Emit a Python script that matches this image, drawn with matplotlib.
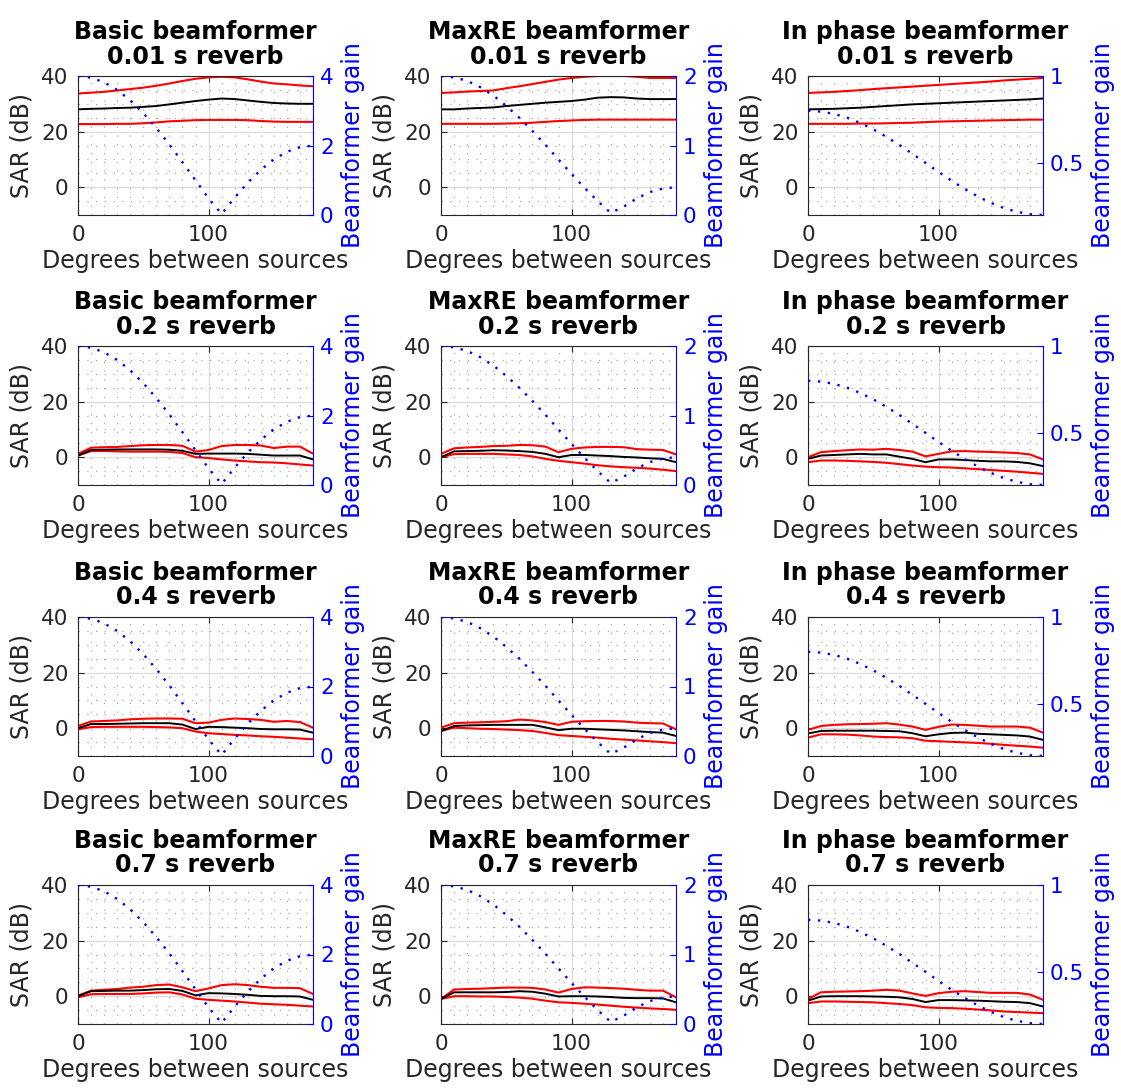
import numpy as np
import matplotlib
matplotlib.use("Agg")
import matplotlib.pyplot as plt
from matplotlib.ticker import MultipleLocator, FixedLocator, FuncFormatter

# angle between the two sources (degrees)
deg = [0, 10, 20, 30, 40, 50, 60, 70, 80, 90, 100, 110, 120, 130, 140, 150, 160, 170, 180]

beamformers = ["Basic", "MaxRE", "In phase"]
reverbs = ["0.01", "0.2", "0.4", "0.7"]

# beamformer gain (right axis)
gain_basic = [4.0, 3.95, 3.82, 3.6, 3.3, 2.93, 2.5, 2.03, 1.52, 1.0, 0.48, 0.03, 0.5, 0.93, 1.3, 1.6, 1.82, 1.95, 2.0]
gain_maxre = [2.0, 1.98, 1.93, 1.84, 1.72, 1.57, 1.40, 1.21, 1.01, 0.80, 0.59, 0.39, 0.20, 0.03, 0.12, 0.24, 0.33, 0.38, 0.40]
gain_inphase = [0.80, 0.795, 0.782, 0.76, 0.73, 0.693, 0.65, 0.603, 0.552, 0.50, 0.448, 0.397, 0.35, 0.307, 0.27, 0.24, 0.218, 0.205, 0.20]

# SAR (dB): upper / mean / lower, per beamformer and reverb time
basic_001_hi = [33.7, 34.0, 34.3, 34.8, 35.3, 35.8, 36.5, 37.3, 38.2, 39.0, 39.5, 39.7, 39.5, 38.8, 38.0, 37.3, 37.0, 36.6, 36.3]
basic_001_mid = [28.0, 28.2, 28.3, 28.5, 28.6, 28.9, 29.2, 29.8, 30.4, 31.0, 31.5, 31.9, 31.7, 31.2, 30.7, 30.3, 30.1, 30.0, 30.0]
basic_001_lo = [22.7, 22.7, 22.7, 22.8, 22.8, 23.0, 23.3, 23.7, 23.9, 24.1, 24.2, 24.2, 24.2, 24.1, 23.8, 23.6, 23.5, 23.5, 23.5]

maxre_001_hi = [33.9, 34.1, 34.4, 34.6, 34.8, 35.6, 36.3, 37.1, 37.9, 38.7, 39.3, 39.7, 40.0, 40.0, 40.0, 39.7, 39.3, 39.3, 39.3]
maxre_001_mid = [28.0, 28.0, 28.3, 28.5, 28.7, 29.2, 29.6, 30.0, 30.4, 30.7, 31.0, 31.5, 32.2, 32.4, 32.3, 31.9, 31.7, 31.7, 31.7]
maxre_001_lo = [22.8, 22.8, 22.8, 22.8, 22.8, 22.9, 23.0, 23.2, 23.5, 23.8, 24.0, 24.2, 24.3, 24.3, 24.3, 24.3, 24.3, 24.3, 24.3]

inphase_001_hi = [33.9, 34.1, 34.3, 34.6, 34.9, 35.3, 35.6, 35.9, 36.2, 36.5, 36.8, 37.1, 37.4, 37.7, 38.0, 38.4, 38.7, 39.0, 39.3]
inphase_001_mid = [28.0, 28.1, 28.2, 28.4, 28.6, 28.9, 29.2, 29.5, 29.8, 30.0, 30.2, 30.4, 30.6, 30.8, 31.0, 31.2, 31.4, 31.6, 31.9]
inphase_001_lo = [22.8, 22.8, 22.8, 22.8, 22.9, 22.9, 23.0, 23.1, 23.2, 23.4, 23.6, 23.7, 23.8, 23.9, 24.0, 24.1, 24.2, 24.3, 24.3]

basic_02_hi = [1.2, 3.4, 3.6, 3.7, 4.0, 4.3, 4.4, 4.4, 4.1, 2.0, 2.6, 4.0, 4.4, 4.4, 4.2, 3.3, 3.8, 3.8, 1.3]
basic_02_mid = [0.6, 2.6, 2.7, 2.8, 2.8, 2.8, 2.8, 2.7, 2.3, 1.2, 1.3, 1.3, 1.3, 1.2, 0.9, 0.6, 0.6, 0.6, -0.8]
basic_02_lo = [0.6, 2.2, 2.2, 2.1, 2.0, 2.0, 2.0, 1.9, 1.5, 0.0, -0.3, -0.8, -1.2, -1.5, -1.8, -1.9, -2.2, -2.6, -3.0]

maxre_02_hi = [1.2, 3.2, 3.5, 3.7, 4.0, 4.1, 4.4, 4.3, 3.8, 1.8, 3.0, 3.5, 3.7, 3.7, 3.6, 2.9, 2.7, 2.6, 1.0]
maxre_02_mid = [0.0, 2.1, 2.2, 2.3, 2.5, 2.4, 2.2, 1.9, 1.2, 0.0, 0.8, 0.8, 0.6, 0.4, 0.1, -0.1, -0.4, -0.6, -1.8]
maxre_02_lo = [0.0, 1.1, 1.2, 1.2, 1.2, 1.0, 0.8, 0.3, -0.6, -1.3, -1.8, -2.3, -2.9, -3.3, -3.6, -3.8, -4.1, -4.5, -5.0]

inphase_02_hi = [0.0, 1.8, 2.2, 2.5, 2.8, 2.7, 3.0, 2.6, 2.0, 0.3, 1.2, 2.1, 2.2, 2.0, 1.9, 1.7, 1.5, 1.0, -0.8]
inphase_02_mid = [-0.6, 0.6, 0.8, 1.0, 1.2, 1.0, 1.0, 0.2, -0.6, -1.8, -0.8, -0.8, -1.0, -1.3, -1.5, -1.5, -1.7, -2.2, -3.2]
inphase_02_lo = [-1.8, -1.2, -1.2, -1.3, -1.5, -1.7, -2.0, -2.5, -3.0, -3.4, -3.6, -3.7, -4.0, -4.3, -4.6, -4.9, -5.2, -5.6, -6.0]

basic_04_hi = [0.8, 2.4, 2.6, 2.8, 3.2, 3.4, 3.5, 3.5, 3.4, 1.8, 2.0, 3.0, 3.5, 3.3, 3.0, 2.3, 2.6, 2.2, 0.2]
basic_04_mid = [0.0, 1.5, 1.5, 1.6, 1.7, 1.8, 1.8, 1.8, 1.3, -0.3, 0.5, 0.4, 0.2, 0.0, -0.3, -0.4, -0.4, -0.5, -1.6]
basic_04_lo = [-0.4, 0.4, 0.5, 0.5, 0.5, 0.5, 0.4, 0.3, 0.0, -1.2, -1.8, -2.1, -2.4, -2.6, -2.9, -3.1, -3.4, -3.7, -4.0]

maxre_04_hi = [0.2, 1.8, 2.0, 2.1, 2.3, 2.5, 3.1, 2.8, 2.2, 1.2, 2.3, 2.5, 2.6, 2.6, 2.4, 2.0, 1.8, 1.7, -0.4]
maxre_04_mid = [-1.0, 0.8, 1.0, 1.1, 1.2, 1.2, 1.2, 1.2, 0.3, -0.7, -0.2, -0.2, -0.4, -0.6, -0.8, -1.1, -1.4, -1.6, -2.8]
maxre_04_lo = [-1.0, 0.2, 0.0, -0.2, -0.3, -0.5, -0.7, -1.0, -1.7, -2.5, -2.8, -3.1, -3.4, -3.8, -4.1, -4.4, -4.7, -5.0, -5.4]

inphase_04_hi = [-0.6, 0.8, 1.2, 1.4, 1.5, 1.6, 1.8, 1.3, 0.6, -0.6, 0.5, 1.3, 1.2, 0.9, 0.6, 0.6, 0.6, 0.2, -1.6]
inphase_04_mid = [-1.9, -1.0, -0.9, -0.9, -0.9, -0.9, -1.0, -1.1, -1.8, -2.9, -2.2, -1.7, -1.6, -2.0, -2.2, -2.4, -2.6, -3.0, -4.2]
inphase_04_lo = [-3.4, -2.2, -2.2, -2.3, -2.6, -3.0, -3.2, -3.3, -3.6, -4.5, -4.7, -4.9, -5.1, -5.3, -5.6, -6.0, -6.3, -6.6, -7.0]

basic_07_hi = [0.2, 2.0, 2.3, 2.6, 3.1, 3.4, 4.0, 4.2, 3.2, 1.8, 2.8, 4.0, 4.3, 4.0, 3.4, 3.0, 3.0, 2.9, 0.8]
basic_07_mid = [0.0, 1.8, 1.9, 2.0, 2.0, 2.2, 2.5, 2.6, 1.9, 0.3, 1.1, 1.0, 0.8, 0.5, 0.1, 0.0, 0.0, -0.1, -1.3]
basic_07_lo = [-0.4, 0.7, 0.8, 0.8, 0.8, 1.0, 1.3, 1.4, 0.6, -0.9, -1.3, -1.6, -1.9, -2.3, -2.7, -2.9, -3.1, -3.4, -3.7]

maxre_07_hi = [-1.0, 2.4, 2.6, 2.7, 2.9, 3.1, 3.1, 3.0, 2.4, 1.3, 2.6, 3.2, 3.1, 2.9, 2.7, 2.3, 2.0, 2.0, -0.4]
maxre_07_mid = [-1.0, 1.4, 1.4, 1.4, 1.4, 1.5, 1.8, 1.6, 0.9, -0.1, 0.0, 0.0, -0.1, -0.3, -0.6, -0.7, -0.7, -0.8, -2.2]
maxre_07_lo = [-1.0, 0.0, 0.0, -0.1, -0.1, -0.3, -0.5, -0.9, -1.6, -2.2, -2.4, -2.7, -3.0, -3.4, -3.8, -4.1, -4.4, -4.6, -4.9]

inphase_07_hi = [-1.0, 1.4, 1.6, 1.7, 1.8, 2.0, 2.3, 2.0, 1.0, 0.1, 1.1, 1.6, 1.8, 1.5, 1.2, 1.2, 1.2, 0.6, -1.3]
inphase_07_mid = [-1.6, -0.1, 0.0, 0.0, 0.0, -0.1, -0.2, -0.4, -1.0, -2.1, -1.4, -1.4, -1.5, -1.6, -1.8, -2.0, -2.1, -2.5, -3.7]
inphase_07_lo = [-2.5, -1.9, -1.9, -2.0, -2.1, -2.2, -2.5, -2.8, -3.2, -4.0, -4.2, -4.3, -4.5, -4.8, -5.1, -5.5, -5.7, -5.9, -6.1]

sar = {
    ("Basic", "0.01"): (basic_001_hi, basic_001_mid, basic_001_lo),
    ("MaxRE", "0.01"): (maxre_001_hi, maxre_001_mid, maxre_001_lo),
    ("In phase", "0.01"): (inphase_001_hi, inphase_001_mid, inphase_001_lo),
    ("Basic", "0.2"): (basic_02_hi, basic_02_mid, basic_02_lo),
    ("MaxRE", "0.2"): (maxre_02_hi, maxre_02_mid, maxre_02_lo),
    ("In phase", "0.2"): (inphase_02_hi, inphase_02_mid, inphase_02_lo),
    ("Basic", "0.4"): (basic_04_hi, basic_04_mid, basic_04_lo),
    ("MaxRE", "0.4"): (maxre_04_hi, maxre_04_mid, maxre_04_lo),
    ("In phase", "0.4"): (inphase_04_hi, inphase_04_mid, inphase_04_lo),
    ("Basic", "0.7"): (basic_07_hi, basic_07_mid, basic_07_lo),
    ("MaxRE", "0.7"): (maxre_07_hi, maxre_07_mid, maxre_07_lo),
    ("In phase", "0.7"): (inphase_07_hi, inphase_07_mid, inphase_07_lo),
}
gains = {"Basic": gain_basic, "MaxRE": gain_maxre, "In phase": gain_inphase}
gain_lims = {"Basic": (0, 4), "MaxRE": (0, 2), "In phase": (0.2, 1)}
gain_ticks = {"Basic": [0, 2, 4], "MaxRE": [0, 1, 2], "In phase": [0.5, 1]}

plt.rcParams['font.family'] = ['DejaVu Sans']
FS = 17        # labels and titles
FS_TICK = 15.5
AX_COL = '#262626'

W, H = 1121, 1089
fig = plt.figure(figsize=(W / 100, H / 100), dpi=100)

col_left = [78, 441, 808]
row_bottom = [874, 604, 333, 65]
aw, ah = 235, 139

for r, rev in enumerate(reverbs):
    for c, bf in enumerate(beamformers):
        ax = fig.add_axes([col_left[c] / W, row_bottom[r] / H, aw / W, ah / H])
        hi, mid, lo = sar[(bf, rev)]
        ax.plot(deg, hi, color='red', lw=1.5)
        ax.plot(deg, lo, color='red', lw=1.5)
        ax.plot(deg, mid, color='black', lw=1.4)
        ax.set_xlim(0, 180)
        ax.set_ylim(-10, 40)
        ax.xaxis.set_major_locator(FixedLocator([0, 100]))
        ax.xaxis.set_minor_locator(MultipleLocator(10))
        ax.yaxis.set_major_locator(FixedLocator([0, 20, 40]))
        ax.yaxis.set_minor_locator(MultipleLocator(5))
        ax.grid(True, which='major', color='#dcdcdc', lw=0.9, ls='-')
        ax.grid(True, which='minor', color='#a8a8a8', lw=0.9, ls=(0, (1, 6)))
        ax.set_axisbelow(True)
        ax.tick_params(which='major', direction='in', length=4, width=0.8,
                       labelsize=FS_TICK, colors=AX_COL, top=True, pad=7)
        ax.tick_params(which='minor', length=0)
        for s in ['left', 'bottom', 'top']:
            ax.spines[s].set_color(AX_COL)
            ax.spines[s].set_linewidth(0.8)
        ax.spines['right'].set_visible(False)
        ax.set_ylabel('SAR (dB)', fontsize=FS, color=AX_COL, labelpad=5)
        ax.set_xlabel('Degrees between sources', fontsize=FS, color=AX_COL, labelpad=3)
        ax.set_title(f'{bf} beamformer\n{rev} s reverb', fontsize=FS, fontweight='bold',
                     color='black', pad=9, linespacing=1.05)

        ax2 = ax.twinx()
        ax2.plot(deg, gains[bf], color='blue', lw=1.7, ls=(0, (1, 3.2)))
        ax2.set_ylim(*gain_lims[bf])
        ax2.set_xlim(0, 180)
        ax2.yaxis.set_major_locator(FixedLocator(gain_ticks[bf]))
        ax2.yaxis.set_major_formatter(FuncFormatter(lambda v, p: f'{v:g}'))
        ax2.tick_params(axis='y', direction='in', length=4, width=0.8,
                        labelsize=FS_TICK, colors='blue', pad=5)
        for s in ['left', 'bottom', 'top']:
            ax2.spines[s].set_visible(False)
        ax2.spines['right'].set_color('blue')
        ax2.spines['right'].set_linewidth(0.8)
        ax2.set_ylabel('Beamformer gain', fontsize=FS, color='blue', labelpad=5)

fig.savefig('out.png', dpi=100)
